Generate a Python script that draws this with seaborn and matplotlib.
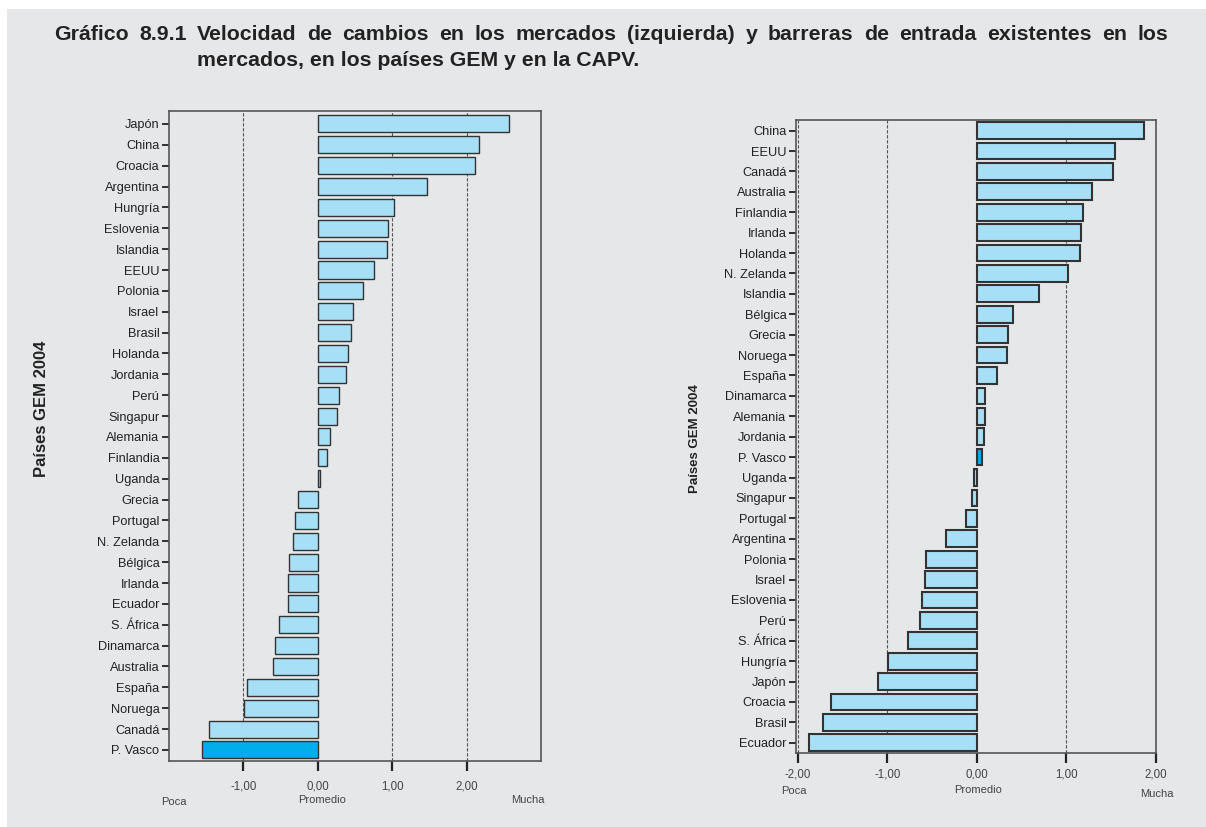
import matplotlib
matplotlib.use("Agg")
import matplotlib.pyplot as plt
import seaborn as sns
import pandas as pd

# datos
paises_izq = ["Japón", "China", "Croacia", "Argentina", "Hungría", "Eslovenia", "Islandia",
              "EEUU", "Polonia", "Israel", "Brasil", "Holanda", "Jordania", "Perú", "Singapur",
              "Alemania", "Finlandia", "Uganda", "Grecia", "Portugal", "N. Zelanda", "Bélgica",
              "Irlanda", "Ecuador", "S. África", "Dinamarca", "Australia", "España", "Noruega",
              "Canadá", "P. Vasco"]
valores_izq = [2.57, 2.17, 2.11, 1.47, 1.02, 0.94, 0.93, 0.76, 0.61, 0.47, 0.44, 0.40, 0.38,
               0.29, 0.26, 0.17, 0.13, 0.03, -0.26, -0.31, -0.33, -0.39, -0.40, -0.40, -0.52,
               -0.57, -0.60, -0.95, -0.99, -1.46, -1.55]

paises_der = ["China", "EEUU", "Canadá", "Australia", "Finlandia", "Irlanda", "Holanda",
              "N. Zelanda", "Islandia", "Bélgica", "Grecia", "Noruega", "España", "Dinamarca",
              "Alemania", "Jordania", "P. Vasco", "Uganda", "Singapur", "Portugal", "Argentina",
              "Polonia", "Israel", "Eslovenia", "Perú", "S. África", "Hungría", "Japón",
              "Croacia", "Brasil", "Ecuador"]
valores_der = [1.87, 1.54, 1.52, 1.28, 1.18, 1.16, 1.15, 1.02, 0.69, 0.40, 0.35, 0.34, 0.22,
               0.09, 0.09, 0.08, 0.06, -0.03, -0.06, -0.12, -0.35, -0.57, -0.58, -0.61, -0.64,
               -0.77, -0.99, -1.10, -1.63, -1.72, -1.88]

titulo_1 = ("Gráfico 8.9.1 Velocidad de cambios en los mercados (izquierda) y "
            "barreras de entrada existentes en los")
titulo_2 = "mercados, en los países GEM y en la CAPV."

W, H = 1206, 827
FONDO = "#e6e7e9"
AZUL = "#a6dff6"
AZUL_CAPV = "#00aeea"
BORDE = "#333333"

sns.set_theme(style="white")
plt.rcParams["font.family"] = ["Liberation Sans", "DejaVu Sans"]

fig = plt.figure(figsize=(W / 100, H / 100), dpi=100)
fig.patch.set_facecolor("white")
fig.patches.append(plt.Rectangle((7 / W, 0), 1, 1 - 9 / H, transform=fig.transFigure,
                                 facecolor=FONDO, edgecolor="none", zorder=-10))


def fx(x):
    return x / W


def fy(y):
    return 1 - y / H


def panel(rect, paises, valores, xlim, ylim, ticks, grid, ancho, lw, pad):
    ax = fig.add_axes(rect)
    ax.set_facecolor(FONDO)
    df = pd.DataFrame({"pais": paises, "valor": valores})
    colores = {p: (AZUL_CAPV if p == "P. Vasco" else AZUL) for p in paises}
    sns.barplot(data=df, x="valor", y="pais", hue="pais", palette=colores, legend=False,
                orient="h", width=ancho, edgecolor=BORDE, linewidth=lw, saturation=1,
                ax=ax, zorder=3)
    for g in grid:
        ax.axvline(g, color="#555555", lw=0.8, ls=(0, (3, 1.5)), zorder=1)
    ax.set_xlim(*xlim)
    ax.set_ylim(*ylim)
    ax.set_xticks(ticks)
    ax.set_xticklabels([f"{t:.2f}".replace(".", ",") for t in ticks], fontsize=8.3,
                       color="#444444")
    ax.tick_params(axis="x", direction="out", length=7, width=1.6, color="#222222", pad=pad,
                   bottom=True)
    ax.tick_params(axis="y", direction="out", length=5, width=1.3, color="#222222",
                   pad=2, left=True, labelsize=9.2, labelcolor="#222222")
    ax.set_xlabel("")
    ax.set_ylabel("")
    for s in ax.spines.values():
        s.set_color("#555555")
        s.set_linewidth(1.2)
    return ax


# panel izquierdo: velocidad de cambios
panel([fx(169), fy(761), fx(541) - fx(169), fy(111) - fy(761)], paises_izq, valores_izq,
      (-2.0, 3.0), (30.53, -0.62), [-1, 0, 1, 2], [-1, 1, 2], 0.82, 1.0, 7)

# panel derecho: barreras de entrada
panel([fx(796), fy(753), fx(1156) - fx(796), fy(120) - fy(753)], paises_der, valores_der,
      (-2.02, 2.0), (30.5, -0.52), [-2, -1, 0, 1, 2], [-2, -1, 1, 2], 0.82, 1.5, 4.5)

# título: primera línea justificada entre x=54 y x=1168
estilo = dict(fontsize=15.3, fontweight="bold", color="#222222", va="center", ha="left")
palabras = titulo_1.split(" ")
renderer = fig.canvas.get_renderer()
objs = [fig.text(0, fy(35), p, **estilo) for p in palabras]
anchos = [o.get_window_extent(renderer).width for o in objs]
hueco = (1168 - 54 - sum(anchos)) / (len(palabras) - 1)
x = 54
for o, a in zip(objs, anchos):
    o.set_x(fx(x))
    x += a + hueco
fig.text(fx(197), fy(61), titulo_2, **estilo)

# etiquetas de los ejes
fig.text(fx(42), fy(409), "Países GEM 2004", rotation=90, fontsize=12, fontweight="bold",
         color="#222222", va="center", ha="center")
fig.text(fx(695), fy(439), "Países GEM 2004", rotation=90, fontsize=9.5, fontweight="bold",
         color="#222222", va="center", ha="center")

for x, y, t in [(174, 802, "Poca"), (322, 800, "Promedio"), (528, 800, "Mucha"),
                (794, 791, "Poca"), (978, 790, "Promedio"), (1157, 794, "Mucha")]:
    fig.text(fx(x), fy(y), t, fontsize=8, color="#444444", va="center", ha="center")

fig.savefig("out.png", dpi=100, facecolor=fig.get_facecolor())
